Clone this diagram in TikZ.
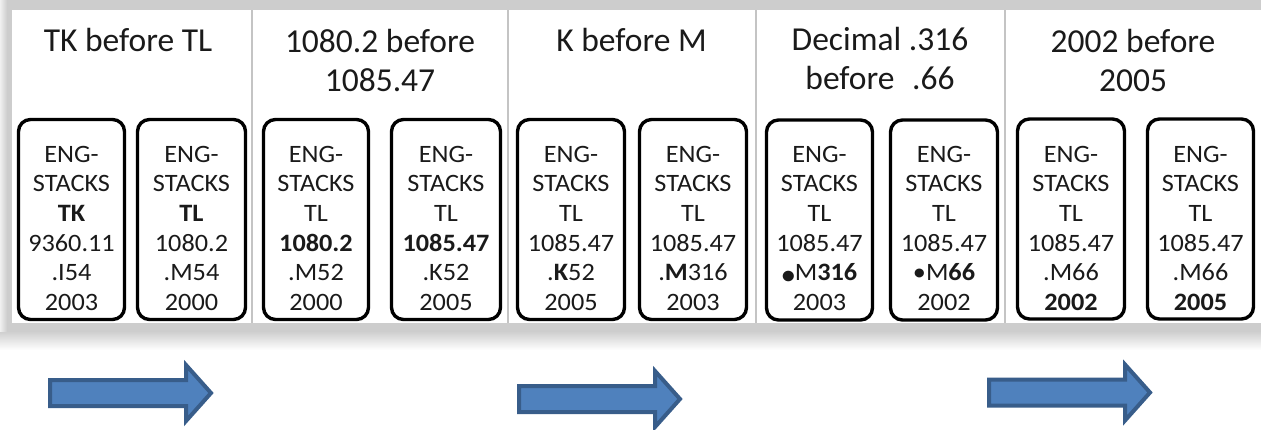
\documentclass[tikz,border=0pt]{standalone}
\usepackage{fontspec}
\setmainfont{Carlito}
\newfontfamily\cardfont[FakeStretch=1.05]{Carlito}
\definecolor{arrowfill}{HTML}{4F81BD}
\definecolor{arrowline}{HTML}{385D8A}
\definecolor{framegray}{HTML}{CDCDCD}
\definecolor{divgray}{HTML}{C4C4C4}
\definecolor{inktext}{HTML}{1A1A1A}
\begin{document}
\begin{tikzpicture}[x=1pt,y=-1pt,
  card/.style={draw=black,line width=3.4pt,rounded corners=12pt,minimum height=200pt,inner sep=0pt},
  cardtxt/.style={anchor=north,inner sep=0pt,align=center,text=inktext,font=\cardfont\fontsize{25}{29.6}\selectfont},
  titletxt/.style={anchor=north,inner sep=0pt,align=center,text=inktext,font=\fontsize{33.5}{39.5}\selectfont},
  divider/.style={draw=divgray,line width=1.5pt},
  arrowstyle/.style={fill=arrowfill,draw=arrowline,line width=4pt},
  blockarrow/.pic={\path[arrowstyle] (0,-13) -- (136,-13) -- (136,-28) -- (161,0) -- (136,28) -- (136,13) -- (0,13) -- cycle;}
]
\useasboundingbox (0,0) rectangle (1261,429);
% frame
\fill[white] (0,0) rectangle (1261,429);
\fill[framegray] (0,0) rectangle (1261,331);
\shade[top color=framegray,bottom color=white] (0,331) rectangle (1261,350);
\shade[left color=gray!12,right color=framegray] (0,0) rectangle (7,331);
\fill[white] (12,10) rectangle (1261,323);
% dividers
\coordinate (d1t) at (252,10); \coordinate (d1b) at (252,323);
\coordinate (d2t) at (508,10); \coordinate (d2b) at (508,323);
\coordinate (d3t) at (756,10); \coordinate (d3b) at (756,323);
\coordinate (d4t) at (1005,10); \coordinate (d4b) at (1005,323);
\draw[divider] (d1t) -- (d1b);
\draw[divider] (d2t) -- (d2b);
\draw[divider] (d3t) -- (d3b);
\draw[divider] (d4t) -- (d4b);
% titles
\node[titletxt] (h1) at (128,23) {\rule{0pt}{28pt}TK before TL};
\node[titletxt] (h2) at (380,24) {\rule{0pt}{28pt}1080.2 before\\1085.47};
\node[titletxt] (h3) at (631.5,23) {\rule{0pt}{28pt}K before M};
\node[titletxt] (h4) at (880,22) {\rule{0pt}{28pt}Decimal .316\\before\hspace{0.3em} .66};
\node[titletxt] (h5) at (1133,24) {\rule{0pt}{28pt}2002 before\\2005};
% cards
\node[card,minimum width=106pt] (b11) at (71.5,219.5) {};
\node[card,minimum width=108pt] (b12) at (191.5,219.5) {};
\node[card,minimum width=105pt] (b21) at (316,219.5) {};
\node[card,minimum width=109pt] (b22) at (446,219.5) {};
\node[card,minimum width=107pt] (b31) at (571,219.5) {};
\node[card,minimum width=107pt] (b32) at (693,219.5) {};
\node[card,minimum width=106pt] (b41) at (819.5,220) {};
\node[card,minimum width=107pt] (b42) at (944,220) {};
\node[card,minimum width=107pt] (b51) at (1071,219) {};
\node[card,minimum width=106pt] (b52) at (1200.5,219) {};
% card texts
\node[cardtxt] (t11) at (b11.center |- 0,144) {\rule{0pt}{18pt}ENG-\\STACKS\\\textbf{TK}\\9360.11\\.I54\\2003};
\node[cardtxt] (t12) at (b12.center |- 0,144) {\rule{0pt}{18pt}ENG-\\STACKS\\\textbf{TL}\\1080.2\\.M54\\2000};
\node[cardtxt] (t21) at (b21.center |- 0,144) {\rule{0pt}{18pt}ENG-\\STACKS\\TL\\\textbf{1080.2}\\.M52\\2000};
\node[cardtxt] (t22) at (b22.center |- 0,144) {\rule{0pt}{18pt}ENG-\\STACKS\\TL\\\textbf{1085.47}\\.K52\\2005};
\node[cardtxt] (t31) at (b31.center |- 0,144) {\rule{0pt}{18pt}ENG-\\STACKS\\TL\\1085.47\\.\textbf{K}52\\2005};
\node[cardtxt] (t32) at (b32.center |- 0,144) {\rule{0pt}{18pt}ENG-\\STACKS\\TL\\1085.47\\.\textbf{M}316\\2003};
\node[cardtxt] (t41) at (b41.center |- 0,144) {\rule{0pt}{18pt}ENG-\\STACKS\\TL\\1085.47\\\raisebox{-0.12em}{\textbf{•}}M\textbf{316}\\2003};
\node[cardtxt] (t42) at (b42.center |- 0,144) {\rule{0pt}{18pt}ENG-\\STACKS\\TL\\1085.47\\•M\textbf{66}\\2002};
\node[cardtxt] (t51) at (b51.center |- 0,144) {\rule{0pt}{18pt}ENG-\\STACKS\\TL\\1085.47\\.M66\\\textbf{2002}};
\node[cardtxt] (t52) at (b52.center |- 0,144) {\rule{0pt}{18pt}ENG-\\STACKS\\TL\\1085.47\\.M66\\\textbf{2005}};
% arrows
\pic at (50,393) {blockarrow};
\pic at (519,399) {blockarrow};
\pic at (989,392.5) {blockarrow};
\end{tikzpicture}
\end{document}
